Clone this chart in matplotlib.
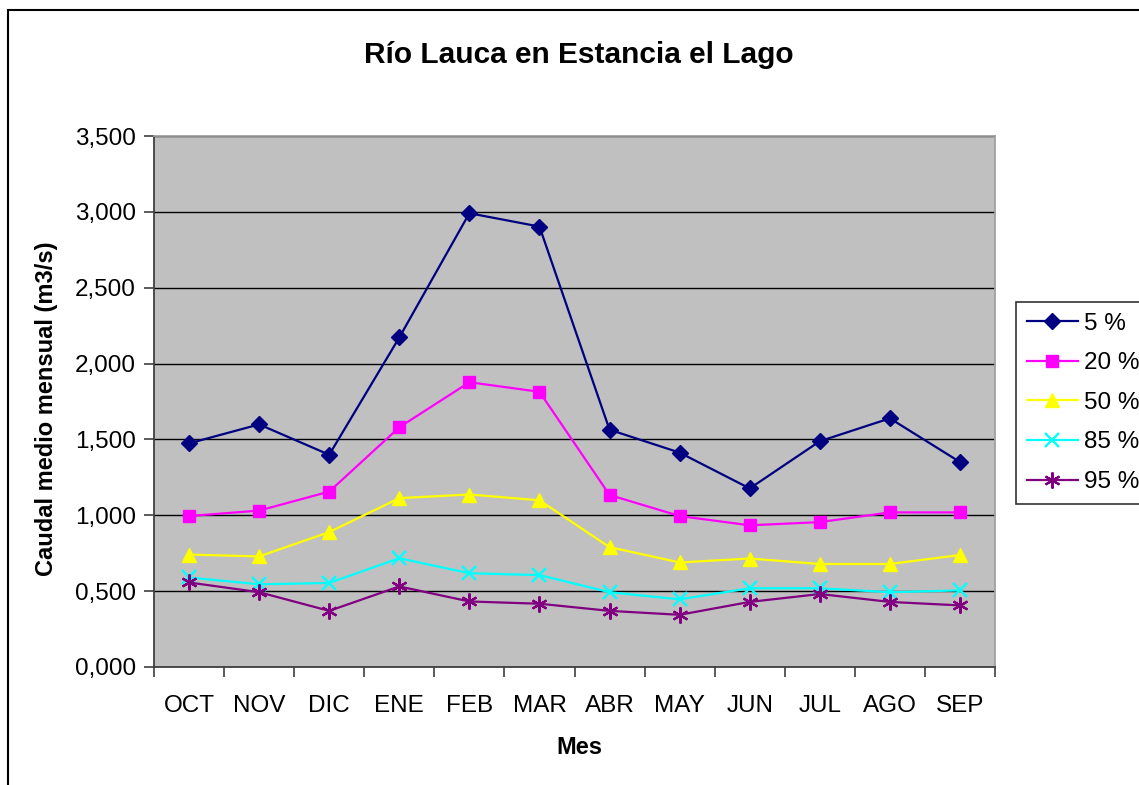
import matplotlib
matplotlib.use('Agg')
import matplotlib.pyplot as plt
from matplotlib.patches import Rectangle
from matplotlib.ticker import FuncFormatter

plt.rcParams['font.family'] = ['Liberation Sans', 'DejaVu Sans']

# meses del año hidrológico
meses = ['OCT', 'NOV', 'DIC', 'ENE', 'FEB', 'MAR', 'ABR', 'MAY', 'JUN', 'JUL', 'AGO', 'SEP']

# caudal medio mensual (m3/s) por probabilidad de excedencia
q05 = [1.474, 1.599, 1.399, 2.172, 2.991, 2.903, 1.564, 1.413, 1.177, 1.488, 1.639, 1.351]
q20 = [0.995, 1.031, 1.156, 1.580, 1.877, 1.814, 1.134, 0.995, 0.934, 0.955, 1.019, 1.019]
q50 = [0.741, 0.729, 0.889, 1.113, 1.137, 1.099, 0.790, 0.689, 0.715, 0.679, 0.679, 0.738]
q85 = [0.590, 0.545, 0.554, 0.717, 0.618, 0.606, 0.493, 0.446, 0.519, 0.519, 0.493, 0.505]
q95 = [0.557, 0.493, 0.370, 0.531, 0.432, 0.417, 0.370, 0.344, 0.429, 0.481, 0.429, 0.406]

etiquetas = ['5 %', '20 %', '50 %', '85 %', '95 %']

W, H = 1139, 785
fig = plt.figure(figsize=(W / 100, H / 100), dpi=100)
ax = fig.add_axes([154 / W, 1 - 667 / H, 841 / W, 531 / H])
ax.set_facecolor('#C0C0C0')

x = list(range(len(meses)))
ax.plot(x, q05, color='#000080', marker='D', markersize=8.5, lw=1.6, label=etiquetas[0])
ax.plot(x, q20, color='#FF00FF', marker='s', markersize=8.5, lw=1.6, label=etiquetas[1])
ax.plot(x, q50, color='#FFFF00', marker='^', markersize=10.5, lw=1.6, label=etiquetas[2])
ax.plot(x, q85, color='#00FFFF', marker='x', markersize=9.5, mew=1.7, lw=1.6, label=etiquetas[3])
ax.plot(x, q95, color='#800080', marker=(6, 2, 0), markersize=11.5, mew=1.6, lw=1.6, label=etiquetas[4])

ax.set_ylim(0, 3.5)
ax.set_xlim(-0.5, len(meses) - 0.5)
ax.set_yticks([i * 0.5 for i in range(8)])
ax.yaxis.set_major_formatter(FuncFormatter(lambda v, p: f'{v:.3f}'.replace('.', ',')))
ax.yaxis.grid(True, color='black', lw=1)
ax.set_axisbelow(True)

# ticks en los limites de categoria, etiquetas al centro
ax.set_xticks([i - 0.5 for i in range(len(meses) + 1)])
ax.set_xticklabels([])
ax.set_xticks(x, minor=True)
ax.set_xticklabels(meses, minor=True)
ax.tick_params(axis='x', which='major', length=7, width=1.2, color='#404040', direction='out')
ax.tick_params(axis='x', which='minor', length=0, pad=20, labelsize=17.5)
ax.tick_params(axis='y', length=7, width=1.2, color='#404040', pad=6, labelsize=17.5)

for s in ['left', 'bottom']:
    ax.spines[s].set_color('#404040')
    ax.spines[s].set_linewidth(1.3)
for s in ['top', 'right']:
    ax.spines[s].set_color('#A0A0A0')
    ax.spines[s].set_linewidth(1.3)

fig.text(579 / W, 1 - 55 / H, 'Río Lauca en Estancia el Lago', ha='center', va='center',
         fontsize=21.5, fontweight='bold')
fig.text(47 / W, 1 - 409 / H, 'Caudal medio mensual (m3/s)', ha='center', va='center',
         rotation=90, fontsize=17, fontweight='bold')
fig.text(579 / W, 1 - 747 / H, 'Mes', ha='center', va='center', fontsize=17, fontweight='bold')

leg = fig.legend(loc='upper left', bbox_to_anchor=(1016 / W, 1 - 302 / H), fontsize=17.5,
                 frameon=True, fancybox=False, handlelength=2.1, handletextpad=0.25,
                 labelspacing=0.72, borderpad=0.45, borderaxespad=0)
leg.get_frame().set_edgecolor('black')
leg.get_frame().set_linewidth(1.2)

# borde del grafico
fig.patches.append(Rectangle((8 / W, -0.1), 1.5, 1.1 - 10 / H, transform=fig.transFigure,
                             fill=False, edgecolor='black', lw=1.5))

fig.savefig('out.png', dpi=100)
